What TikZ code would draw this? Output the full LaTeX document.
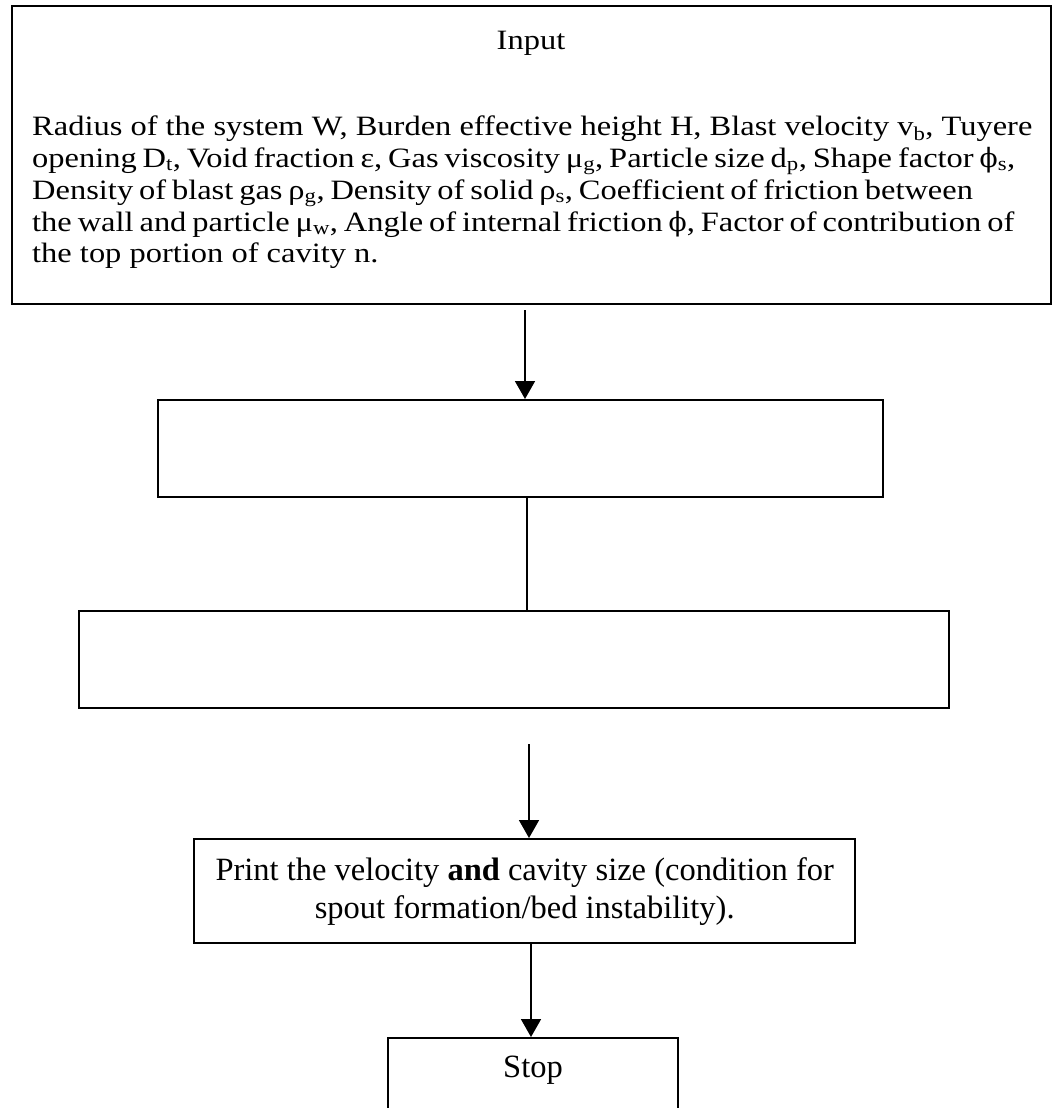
\documentclass[tikz,border=0pt]{standalone}
\usepackage{fontspec}
\setmainfont{Liberation Serif}
\newfontfamily\widefont{Liberation Serif}[FakeStretch=1.16]
\newfontfamily\phifont{DejaVu Serif}[Scale=0.95]
\usetikzlibrary{arrows.meta}
\newcommand{\vphi}{{\phifont ϕ}}
\newcommand{\tightsp}{\spaceskip=0.21em plus 0.1em minus 0.05em\relax}
\begin{document}
\begin{tikzpicture}[x=1pt,y=-1pt,
  box/.style={draw, line width=2.4pt, inner sep=0pt},
  conn/.style={line width=1.8pt, -{Triangle[width=20pt,length=18pt]}},
  plainconn/.style={line width=1.6pt},
  toptext/.style={font=\widefont\fontsize{28}{32}\selectfont, anchor=base west, inner sep=0pt},
  lowtext/.style={font=\fontsize{32.5}{38}\selectfont}]
\useasboundingbox (0,0) rectangle (1054,1108);
\clip (0,0) rectangle (1054,1108);
% input box
\node[box, minimum width=1039pt, minimum height=298pt, anchor=north west] (input) at (11,5) {};
\node[font=\widefont\fontsize{28}{32}\selectfont, anchor=base] (inputtitle) at (531,50) {Input};
\node[toptext] (l1) at (32,135) {Radius of the system W, Burden effective height H, Blast velocity v\textsubscript{b}, Tuyere};
\node[toptext] (l2) at (32,167) {\tightsp opening D\textsubscript{t}, Void fraction ε, Gas viscosity μ\textsubscript{g}, Particle size d\textsubscript{p}, Shape factor \vphi\textsubscript{s},};
\node[toptext] (l3) at (32,199) {\tightsp Density of blast gas ρ\textsubscript{g}, Density of solid ρ\textsubscript{s}, Coefficient of friction between};
\node[toptext] (l4) at (32,231) {\tightsp the wall and particle μ\textsubscript{w}, Angle of internal friction \vphi, Factor of contribution of};
\node[toptext] (l5) at (32,262) {the top portion of cavity n.};
% empty process boxes
\node[box, minimum width=725pt, minimum height=97pt, anchor=north west] (boxa) at (157,399) {};
\node[box, minimum width=870pt, minimum height=97pt, anchor=north west] (boxb) at (78,610) {};
% print box
\node[box, minimum width=661pt, minimum height=104pt, anchor=north west, align=center, lowtext] (print) at (193,838)
 {Print the velocity \textbf{and} cavity size (condition for\\ spout formation/bed instability).};
% stop box (bottom cut off)
\node[box, minimum width=290pt, minimum height=120pt, anchor=north] (stop) at (533,1037) {};
\node[lowtext, anchor=base] (stoptext) at ([yshift=-40pt]stop.north) {Stop};
% connectors
\coordinate (c1) at (525,0);
\coordinate (c2) at (527,0);
\coordinate (c3) at (529,0);
\coordinate (c4) at (531,0);
\draw[conn, shorten <=5pt] (input.south -| c1) -- (boxa.north -| c1);
\draw[plainconn] (boxa.south -| c2) -- (boxb.north -| c2);
\draw[conn, shorten <=35pt] (boxb.south -| c3) -- (print.north -| c3);
\draw[conn] (print.south -| c4) -- (stop.north -| c4);
\end{tikzpicture}
\end{document}
